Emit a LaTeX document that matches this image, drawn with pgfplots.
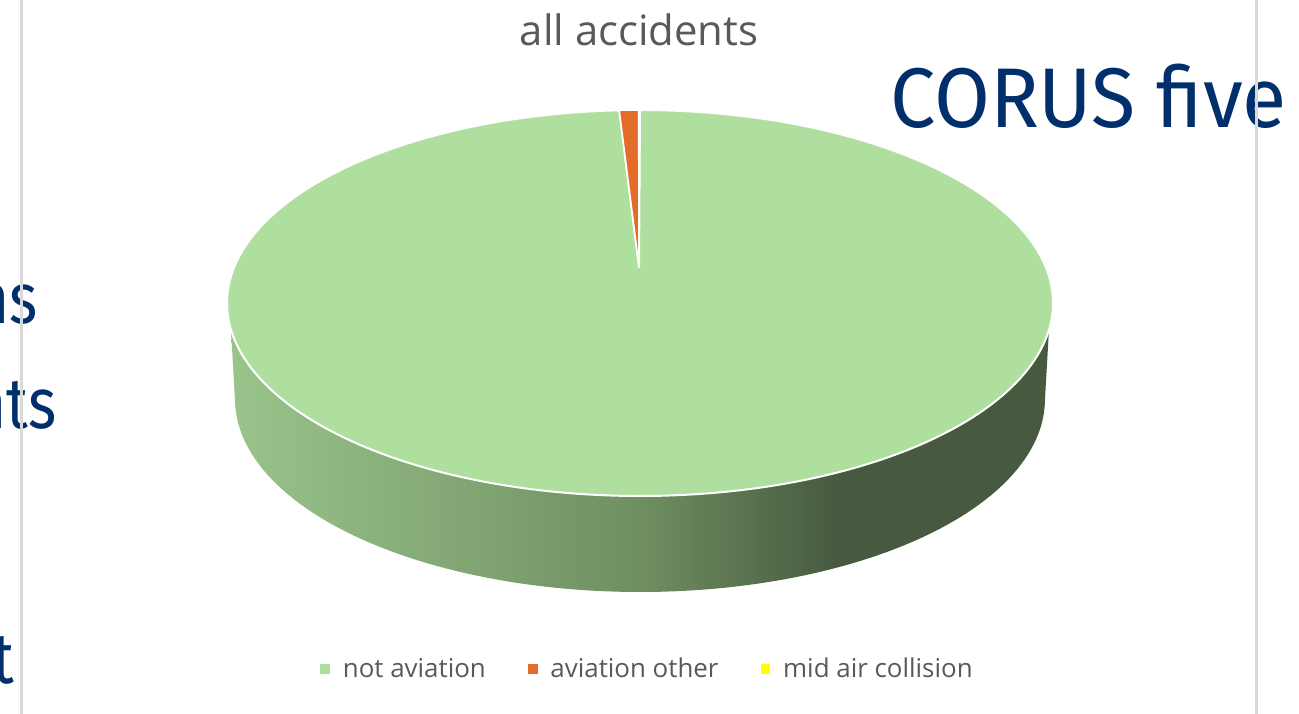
\documentclass[border=0pt]{standalone}
\usepackage{pgfplots}
\pgfplotsset{compat=1.18}
\usepackage{pgfplotstable}
\usepackage{fontspec}
\setmainfont{Open Sans}
\newfontfamily\slidefont{Fira Sans}

\definecolor{pietop}{HTML}{AFDF9F}
\definecolor{pieorange}{HTML}{E36C2A}
\definecolor{pieyellow}{HTML}{FFFF00}
\definecolor{wallL}{HTML}{9AC48C}
\definecolor{wallM}{HTML}{6F8F61}
\definecolor{wallR}{HTML}{475A40}
\definecolor{labelgrey}{HTML}{595959}
\definecolor{slideblue}{HTML}{002F6C}
\definecolor{framegrey}{HTML}{D9D9D9}

% light-to-dark shading of the pie's rim
\pgfdeclarehorizontalshading{piewall}{100bp}{color(0bp)=(wallL); color(25bp)=(wallL); color(50bp)=(wallM); color(62bp)=(wallR); color(100bp)=(wallR)}

\pgfplotstableread[col sep=comma]{
category,share
not aviation,99.2
aviation other,0.75
mid air collision,0.05
}\accidents

% pie geometry (y grows downwards)
\def\pcx{640}  \def\pcy{303}  % centre of the top ellipse
\def\prx{413}  \def\pry{193}  % radii of the top ellipse
\def\pax{639}  \def\pay{267}  % point where the slices meet
\def\pdepth{96} \def\prxb{405} % rim depth and lower radius

% small square key for the legend
\pgfplotsset{
  keysquare/.style={legend image code/.code={%
    \fill[#1] (0bp,-2.2bp) rectangle (4.4bp,2.2bp);
    \path (8.9bp,0bp);}},
}
% narrow slide lettering
\newcommand\slidetext[2]{{\slidefont\fontsize{#1}{#1}\selectfont\scalebox{0.84}[1]{#2}}}

\begin{document}
\begin{tikzpicture}
\pgfplotstablegetelem{0}{share}\of\accidents \let\vA\pgfplotsretval
\pgfplotstablegetelem{1}{share}\of\accidents \let\vB\pgfplotsretval
\pgfplotstablegetelem{2}{share}\of\accidents \let\vC\pgfplotsretval
\pgfmathsetmacro\total{\vA+\vB+\vC}
\pgfmathsetmacro\phiA{\vA/\total*360}
\pgfmathsetmacro\phiB{(\vA+\vB)/\total*360}
\begin{axis}[
  scale only axis, width=649.5bp, height=357bp,
  xmin=0, xmax=1299, ymin=0, ymax=714, y dir=reverse,
  hide axis, clip=false,
  legend style={at={(axis cs:648.5,669)}, anchor=center, draw=none, fill=none,
    legend columns=3, font=\fontsize{13}{13}\selectfont, text=labelgrey,
    /tikz/every even column/.append style={column sep=19bp}},
  legend cell align=left,
]
% rim
\addplot[forget plot, shading=piewall, draw=none, domain=0:2, samples=241, variable=\s]
  ({\s<=1 ? \pcx+\prx*cos(8+164*\s) : \pcx+\prxb*cos(360-180*\s)},
   {\s<=1 ? \pcy+\pry*sin(8+164*\s) : \pcy+\pdepth+\pry*sin(360-180*\s)}) -- cycle;
% top face, slices clockwise from twelve o'clock
\addplot[forget plot, fill=pietop, draw=white, line width=1bp, line join=round, domain=0:\phiA, samples=241, variable=\t]
  ({\pcx+\prx*sin(\t)}, {\pcy-\pry*cos(\t)}) -- (axis cs:\pax,\pay) -- cycle;
\addplot[forget plot, fill=pieorange, draw=white, line width=0.8bp, line join=round, domain=\phiA:\phiB, samples=11, variable=\t]
  ({\pcx+\prx*sin(\t)}, {\pcy-\pry*cos(\t)}) -- (axis cs:\pax,\pay) -- cycle;
\addplot[forget plot, fill=pieyellow, draw=white, line width=0.5bp, domain=\phiB:360, samples=5, variable=\t]
  ({\pcx+\prx*sin(\t)}, {\pcy-\pry*cos(\t)}) -- (axis cs:\pax,\pay) -- cycle;

\addlegendimage{keysquare=pietop}
\addlegendentry{not aviation}
\addlegendimage{keysquare=pieorange}
\addlegendentry{aviation other}
\addlegendimage{keysquare=pieyellow}
\addlegendentry{mid air collision}

\node[anchor=base, inner sep=0pt, text=labelgrey, font=\fontsize{21}{21}\selectfont] at (axis cs:639,46) {all accidents};

% slide text around the chart
\node[anchor=base west, inner sep=0pt, text=slideblue] at (axis cs:890,127)
  {\slidefont\fontsize{42.5}{42.5}\selectfont\scalebox{0.955}[1]{CORUS five}};
\node[anchor=base east, inner sep=0pt, text=slideblue] at (axis cs:38,323) {\slidetext{36}{ns}};
\node[anchor=base east, inner sep=0pt, text=slideblue] at (axis cs:57,428) {\slidetext{36}{nts}};
\node[anchor=base east, inner sep=0pt, text=slideblue] at (axis cs:15,683) {\slidetext{36}{t}};

% frame edges
\addplot[forget plot, framegrey, line width=1.5bp] coordinates {(21,0) (21,714)};
\addplot[forget plot, framegrey, line width=1.5bp] coordinates {(1256,0) (1256,714)};
\end{axis}
\pgfresetboundingbox
\path (current axis.south west) rectangle (current axis.north east);
\end{tikzpicture}
\end{document}
